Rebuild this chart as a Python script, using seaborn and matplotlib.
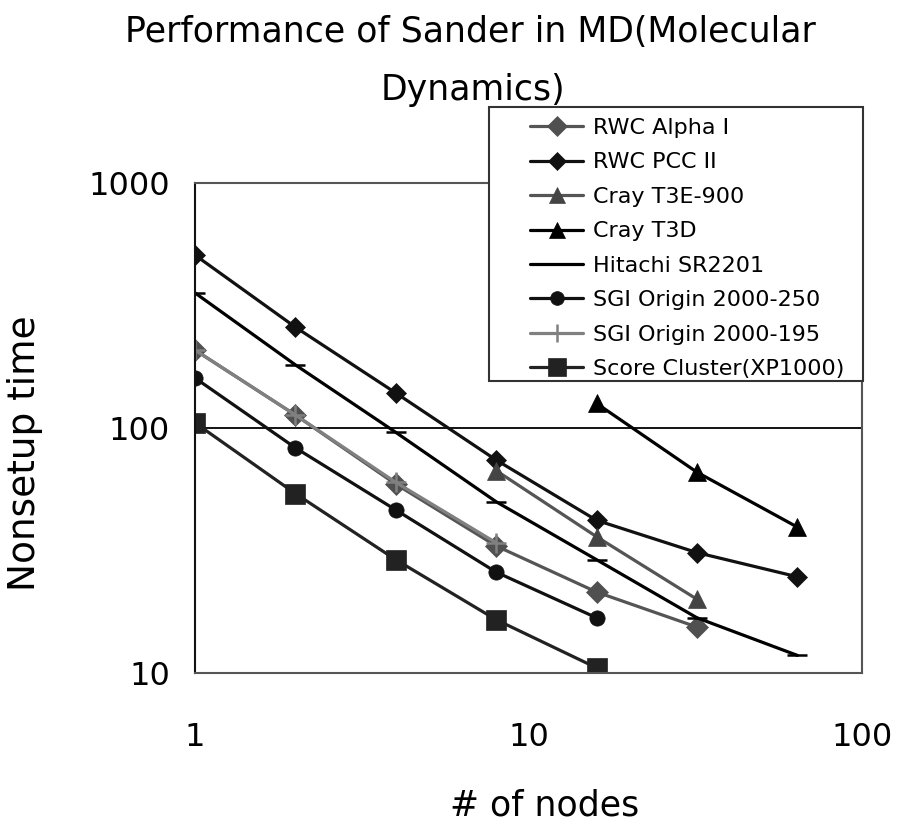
import matplotlib
matplotlib.use("Agg")
import matplotlib.pyplot as plt
import matplotlib.patches as mpatches
import seaborn as sns
import pandas as pd
from matplotlib.ticker import FixedLocator, NullLocator, FixedFormatter

# ---- data ----
series_names = ["RWC Alpha I", "RWC PCC II", "Cray T3E-900", "Cray T3D",
                "Hitachi SR2201", "SGI Origin 2000-250", "SGI Origin 2000-195",
                "Score Cluster(XP1000)"]
alpha_x = [1, 2, 4, 8, 16, 32]
alpha_y = [208, 113, 59, 33, 21.4, 15.4]
pcc_x = [1, 2, 4, 8, 16, 32, 64]
pcc_y = [508, 258, 139, 74, 42, 31, 24.7]
t3e_x = [8, 16, 32]
t3e_y = [67, 36, 20]
t3d_x = [16, 32, 64]
t3d_y = [126, 66, 39.4]
hitachi_x = [1, 2, 4, 8, 16, 32, 64]
hitachi_y = [356, 181, 96, 50, 29, 16.8, 11.8]
sgi250_x = [1, 2, 4, 8, 16]
sgi250_y = [160, 83, 46.3, 25.8, 16.8]
sgi195_x = [1, 2, 4, 8]
sgi195_y = [208, 113, 60, 34]
score_x = [1, 2, 4, 8, 16]
score_y = [105, 54, 29, 16.5, 10.5]

x_ticks = [1, 10, 100]
x_tick_labels = ["1", "10", "100"]
y_ticks = [10, 100, 1000]
y_tick_labels = ["10", "100", "1000"]

data = [(alpha_x, alpha_y), (pcc_x, pcc_y), (t3e_x, t3e_y), (t3d_x, t3d_y),
        (hitachi_x, hitachi_y), (sgi250_x, sgi250_y), (sgi195_x, sgi195_y),
        (score_x, score_y)]

styles = [
    dict(color="#555555", mfc="#505050", marker="D", ms=11),
    dict(color="#111111", mfc="#111111", marker="D", ms=10),
    dict(color="#555555", mfc="#444444", marker="^", ms=13),
    dict(color="#000000", mfc="#000000", marker="^", ms=13.5),
    dict(color="#000000", mfc="#000000", marker="_", ms=14),
    dict(color="#111111", mfc="#111111", marker="o", ms=11),
    dict(color="#808080", mfc="#808080", marker="+", ms=14),
    dict(color="#222222", mfc="#222222", marker="s", ms=14),
]

sns.set_style("white")
plt.rcParams["font.family"] = ["DejaVu Sans"]
for k in ["text.color", "axes.labelcolor", "xtick.color", "ytick.color"]:
    plt.rcParams[k] = "black"

W, H = 899, 821
fig = plt.figure(figsize=(W / 100, H / 100), dpi=100)
ax = fig.add_axes([195 / W, 1 - 673 / H, (862 - 195) / W, (673 - 183) / H])

for name, (xs, ys), st in zip(series_names, data, styles):
    df = pd.DataFrame({"nodes": xs, "time": ys})
    sns.lineplot(data=df, x="nodes", y="time", ax=ax, label=name,
                 color=st["color"], marker=st["marker"], markersize=st["ms"],
                 markerfacecolor=st["mfc"], markeredgecolor=st["mfc"],
                 markeredgewidth=1.8 if st["marker"] in ("+", "_") else 0.5,
                 linewidth=2.3, estimator=None, sort=False)

ax.set_xscale("log")
ax.set_yscale("log")
ax.set_xlim(1, 100)
ax.set_ylim(10, 1000)

ax.xaxis.set_major_locator(FixedLocator(x_ticks))
ax.xaxis.set_major_formatter(FixedFormatter(x_tick_labels))
ax.xaxis.set_minor_locator(NullLocator())
ax.yaxis.set_major_locator(FixedLocator(y_ticks))
ax.yaxis.set_major_formatter(FixedFormatter(y_tick_labels))
ax.yaxis.set_minor_locator(NullLocator())

ax.tick_params(axis="x", direction="in", length=13, width=1.2, color="#333333",
               pad=35, labelsize=23)
ax.tick_params(axis="y", length=0, pad=18, labelsize=23)

ax.yaxis.grid(True, color="#000000", linewidth=1.3)
ax.xaxis.grid(False)
for sp in ax.spines.values():
    sp.set_visible(True)
    sp.set_color("#555555")
    sp.set_linewidth(1.5)
ax.spines["left"].set_color("#111111")

ax.set_xlabel("# of nodes", fontsize=25)
ax.xaxis.label.set_verticalalignment("baseline")
ax.xaxis.set_label_coords((545 - 195) / 667, (673 - 815) / 490)
ax.set_ylabel("Nonsetup time", fontsize=27)
ax.yaxis.label.set_verticalalignment("center")
ax.yaxis.set_label_coords((25 - 195) / 667, (673 - 453) / 490)

fig.text(470 / W, 1 - 42 / H, "Performance of Sander in MD(Molecular",
         ha="center", va="baseline", fontsize=25)
fig.text(473 / W, 1 - 100 / H, "Dynamics)", ha="center", va="baseline",
         fontsize=25)

# legend box
box = mpatches.Rectangle((489 / W, 1 - 381 / H), (863 - 489) / W, (381 - 107) / H,
                         transform=fig.transFigure, facecolor="white",
                         edgecolor="#333333", linewidth=1.5, zorder=4.5,
                         clip_on=False)
ax.add_artist(box)

leg = ax.legend(loc="upper left", bbox_to_anchor=(530 / W, 1 - 118 / H),
                bbox_transform=fig.transFigure,
                frameon=False, fontsize=16, handlelength=2.4,
                handletextpad=0.45, labelspacing=0.65, borderpad=0,
                borderaxespad=0, markerscale=0.9)
leg.set_zorder(6)
leg.get_lines()[4].set_marker("")

fig.savefig("out.png", dpi=100)
